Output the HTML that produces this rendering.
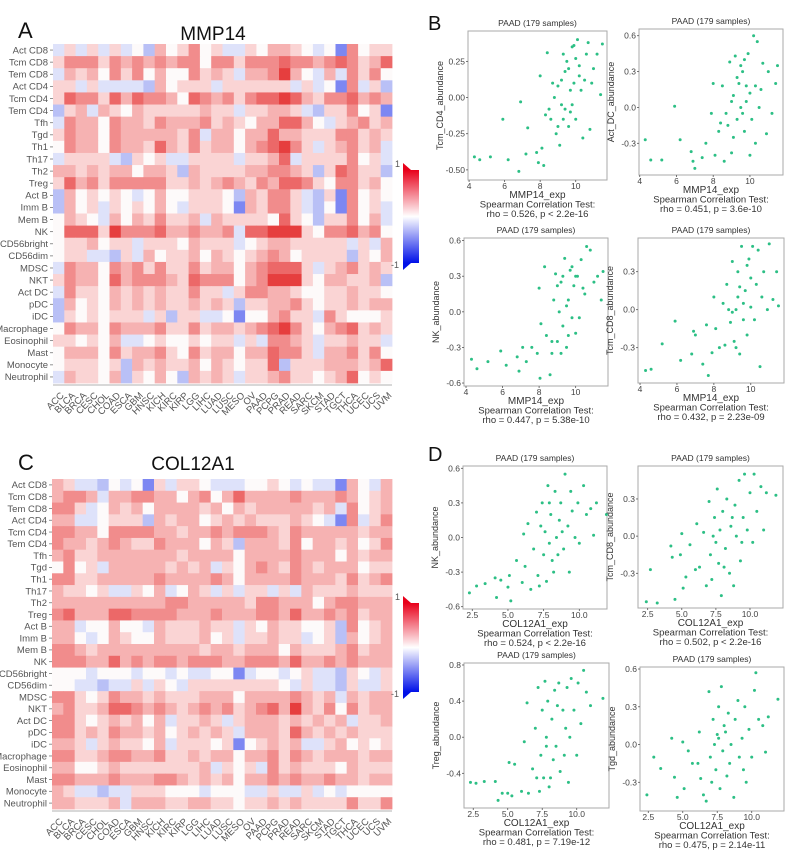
<!DOCTYPE html>
<html><head><meta charset="utf-8">
<style>
html,body{margin:0;padding:0;background:#fff;}
svg{display:block;font-family:"Liberation Sans",Arial,sans-serif;}
</style></head>
<body>
<svg id="fig" width="802" height="852" viewBox="0 0 802 852" xmlns="http://www.w3.org/2000/svg">
<defs>
<linearGradient id="cbar" x1="0" y1="0" x2="0" y2="1">
<stop offset="0" stop-color="#e8001a"/><stop offset="0.5" stop-color="#ffffff"/><stop offset="1" stop-color="#0010e8"/>
</linearGradient>
</defs>
</svg>
<script>
const rowLabels=["Act CD8","Tcm CD8","Tem CD8","Act CD4","Tcm CD4","Tem CD4","Tfh","Tgd","Th1","Th17","Th2","Treg","Act B","Imm B","Mem B","NK","CD56bright","CD56dim","MDSC","NKT","Act DC","pDC","iDC","Macrophage","Eosinophil","Mast","Monocyte","Neutrophil"];
const colLabels=["ACC","BLCA","BRCA","CESC","CHOL","COAD","ESCA","GBM","HNSC","KICH","KIRC","KIRP","LGG","LIHC","LUAD","LUSC","MESO","OV","PAAD","PCPG","PRAD","READ","SARC","SKCM","STAD","TGCT","THCA","UCEC","UCS","UVM"];
// heat codes: digit d -> correlation level (0 = strong negative, 3 = zero, 8 = strong positive)
const heatA=[
"242424231534634224355432306344",
"466646565656636646667665676457",
"254536463533645425568532526463",
"442422221534442444444242306241",
"476647576653765646778754667565",
"145254354444454424455421446340",
"265536554655564543557753245645",
"465536555554625535575544466454",
"365536554754645535678642456452",
"244442143422444424457244446342",
"554545535541544445566541476441",
"475646666644545654657764366453",
"153434323533444315466421406343",
"153424343532444305466421306342",
"354325354644525444437431446352",
"377748666755655627788843667563",
"344534424443544423455444442425",
"344221425344535434565344441435",
"265536564644645535677742456454",
"465537566654766635688843554451",
"264435454544644246655433445443",
"153435454544545414455643445455",
"143434442414422303356442643334",
"365536555644645545678643567454",
"443435223433434424266542445442",
"355536455643645535576642556463",
"344434154544535434471444555457",
"254435143531545424456443457343"];
const heatC=[
"542213230424432223343232205325",
"566525566553563575555655565345",
"664235453555545354555554526345",
"552234441545534545444543206246",
"665536666554556566654655555455",
"655456544655535415554635545346",
"564455555554555535555655535455",
"363425555545452435654654555344",
"664455555655556535555655546456",
"544342243523542424424254445444",
"555555555566555554665553566555",
"675557766665556555665755656455",
"552335332544454424354433416345",
"553235433544453424454423415345",
"665455555555545545553544456455",
"666557565665666556665755656555",
"333233323323223302332342214324",
"332212242432444444443242214224",
"664346554544455535555654525455",
"564457765654565645675854636455",
"664345453524454245554545452445",
"664546554534545425554754545444",
"554245443524443403454522453434",
"664456655644545535564654555455",
"553345444444452434264544435444",
"665556555665454535565655655455",
"542212244433323332242242323333",
"554445255544554434454544446446"];

const NS="http://www.w3.org/2000/svg";
const svg=document.getElementById('fig');
function mk(tag,attrs,parent){const e=document.createElementNS(NS,tag);for(const k in attrs)e.setAttribute(k,attrs[k]);(parent||svg).appendChild(e);return e;}
function txt(s,attrs,parent){const e=mk('text',attrs,parent);e.textContent=s;return e;}
const palette=["rgb(125,135,242)","rgb(185,192,246)","rgb(222,226,250)","rgb(253,250,250)","rgb(250,212,212)","rgb(246,178,178)","rgb(241,140,140)","rgb(236,104,104)","rgb(230,62,62)","rgb(225,30,30)"];
function heatColor(d){return palette[Math.max(0,Math.min(9,d))];}
function drawHeat(data,x0,y0,x1,y1,name){
  const g=mk('g',{});
  
  
  const cw=(x1-x0)/colLabels.length, ch=(y1-y0)/rowLabels.length;
  const xs=i=>x0+i*cw, ys=j=>y0+j*ch;
  data.forEach((row,j)=>{
    for(let i=0;i<colLabels.length;i++){
      const r=mk('rect',{x:xs(i).toFixed(2),y:ys(j).toFixed(2),width:(cw+0.4).toFixed(2),height:(ch+0.4).toFixed(2),fill:heatColor(parseInt(row[i]))},g);
      
      
    }
  });
  rowLabels.forEach((l,j)=>{
    const t=txt(l,{x:x0-5,y:ys(j)+ch/2+3.3,'text-anchor':'end','font-size':'9.5',fill:'#555'},g);
    
    
    mk('line',{x1:x0-3,x2:x0,y1:ys(j)+ch/2,y2:ys(j)+ch/2,stroke:'#777','stroke-width':0.8},g);
  });
  mk('line',{x1:x0,x2:x1,y1:y1+2,y2:y1+2,stroke:'#999','stroke-width':0.8},g);
  colLabels.forEach((l,i)=>{
    const cx=xs(i)+cw/2, cy=y1+6;
    const t=txt(l,{x:cx,y:cy+7,'text-anchor':'end','font-size':'9.5',fill:'#555',transform:`rotate(-45 ${cx+3} ${cy})`},g);
    
    
  });
}
function drawCbar(x,y0,y1,name){
  const g=mk('g',{});
  
  
  mk('rect',{x:x,y:y0,width:16,height:y1-y0,fill:'url(#cbar)'},g);
  mk('polygon',{points:`${x},${y0} ${x},${y0-7} ${x+8},${y0}`,fill:'#e8001a'},g);
  mk('polygon',{points:`${x},${y1} ${x},${y1+7} ${x+8},${y1}`,fill:'#0010e8'},g);
  txt('1',{x:x-8,y:y0-3,'font-size':'9',fill:'#555'},g);
  txt('-1',{x:x-12,y:y1+5,'font-size':'9',fill:'#555'},g);
}
[["A",18,38,22],["C",18,470,22],["B",428,30,20],["D",428,461,20]].forEach(p=>{
  const t=txt(p[0],{x:p[1],y:p[2],'font-size':p[3],fill:'#111'});
  
  
});
let t1=txt('MMP14',{x:213,y:40,'text-anchor':'middle','font-size':'19',fill:'#111'});


let t2=txt('COL12A1',{x:193,y:470,'text-anchor':'middle','font-size':'19',fill:'#111'});


drawHeat(heatA,53,44,392,383,'heatmap-mmp14');
drawHeat(heatC,52,479,392,809,'heatmap-col12a1');
drawCbar(403,170,263,'colorbar-a');
drawCbar(403,603,692,'colorbar-c');

// ---------- scatter data ----------
const b1x=[4.3,4.6,5.2,5.9,6.2,6.8,6.9,7.2,7.3,7.8,7.9,8.0,8.1,8.2,8.4,8.6,8.8,9.0,9.1,9.2,9.3,9.4,9.5,9.6,9.7,9.8,9.9,10.0,10.1,10.2,10.4,10.5,10.7,10.8,11.0,11.2,11.4,11.5,9.2,8.7,9.6,10.3,8.9,9.8,10.6,9.0,9.4,9.7,10.0,8.5,9.3,10.2,9.9,8.3,10.9];
const b1y=[-0.41,-0.43,-0.41,-0.15,-0.43,-0.51,-0.03,-0.39,-0.21,-0.38,-0.45,0.15,-0.35,-0.47,0.31,-0.15,0.0,-0.2,-0.33,0.12,0.3,-0.08,0.25,-0.2,0.05,0.35,0.1,-0.15,0.4,0.22,-0.28,0.12,0.38,-0.22,0.2,0.3,0.02,0.37,-0.05,0.1,0.2,0.05,-0.25,-0.05,0.3,0.08,0.18,-0.1,0.27,-0.08,-0.15,0.15,0.36,-0.12,0.1];
const b2x=[4.3,4.6,5.2,5.9,6.2,6.8,6.9,7.0,7.4,7.6,7.9,8.0,8.1,8.3,8.5,8.6,8.7,8.9,9.0,9.1,9.2,9.3,9.4,9.5,9.6,9.7,9.8,9.9,10.0,10.1,10.2,10.3,10.4,10.5,10.7,10.9,11.0,11.2,11.4,11.5,9.3,9.6,9.8,9.0,8.8,10.0,9.5,8.4,10.6,9.7,9.1,10.3];
const b2y=[-0.27,-0.44,-0.44,0.01,-0.27,-0.37,-0.45,-0.51,-0.42,-0.3,-0.05,0.2,-0.4,-0.2,0.18,-0.45,-0.05,0.38,-0.38,0.1,0.43,-0.1,0.2,0.0,0.3,-0.2,0.05,0.45,-0.4,-0.1,0.6,0.18,0.55,0.0,0.37,-0.22,0.3,-0.05,0.2,0.35,0.25,-0.05,0.18,0.05,-0.15,0.12,0.35,-0.13,0.15,0.4,-0.25,-0.3];
const b3x=[4.3,4.6,5.2,5.9,6.2,6.8,6.9,7.1,7.3,7.6,7.9,8.0,8.05,8.1,8.3,8.4,8.6,8.7,8.8,8.9,9.0,9.1,9.2,9.3,9.4,9.5,9.6,9.7,9.8,9.9,10.0,10.1,10.2,10.3,10.5,10.6,10.8,11.0,11.2,11.4,11.5,9.3,9.6,9.0,10.0,9.5,8.7,10.4,9.8,9.2];
const b3y=[-0.4,-0.48,-0.42,-0.33,-0.45,-0.38,-0.5,-0.3,-0.42,-0.3,-0.35,0.2,-0.56,-0.1,0.38,-0.2,-0.53,-0.35,0.1,0.32,-0.25,0.0,0.25,-0.12,0.45,-0.3,0.1,0.35,-0.05,0.22,-0.18,0.3,-0.05,0.44,0.15,0.55,0.52,0.25,0.3,0.1,0.34,0.3,-0.2,0.22,0.3,0.05,-0.25,0.2,0.38,-0.35];
const b4x=[4.3,4.6,5.2,5.9,6.2,6.8,6.9,7.0,7.4,7.6,7.7,7.9,8.0,8.1,8.3,8.5,8.6,8.7,8.9,9.0,9.1,9.2,9.3,9.4,9.5,9.6,9.7,9.8,9.9,10.0,10.1,10.2,10.3,10.4,10.5,10.7,10.9,11.0,11.2,11.4,11.5,9.3,9.6,9.0,10.0,8.8,9.4,10.6,9.2,9.8];
const b4y=[-0.48,-0.47,-0.27,-0.09,-0.4,-0.35,-0.17,-0.2,-0.43,-0.12,-0.52,-0.34,0.1,-0.15,-0.3,0.05,-0.28,0.2,-0.1,0.38,-0.25,0.0,0.3,-0.35,0.5,0.05,0.15,-0.2,0.4,0.02,0.5,-0.08,0.2,0.47,-0.45,0.3,0.0,0.52,0.08,0.3,0.03,0.1,-0.08,-0.02,0.25,0.0,0.18,0.1,-0.3,0.35];
const d1x=[2.3,2.8,3.4,4.1,4.2,4.5,5.0,5.1,5.2,5.6,6.0,6.1,6.2,6.4,6.6,6.8,7.0,7.1,7.2,7.4,7.5,7.6,7.7,7.8,7.9,8.0,8.2,8.3,8.4,8.5,8.7,8.9,9.0,9.2,9.3,9.5,9.7,9.9,10.0,10.3,10.5,10.8,11.0,11.2,11.9,7.3,8.1,8.6,9.4,7.9,8.8];
const d1y=[-0.48,-0.42,-0.4,-0.35,-0.52,-0.37,-0.43,-0.33,-0.55,-0.2,-0.39,0.03,-0.25,0.12,-0.45,-0.1,0.22,-0.33,-0.42,0.3,-0.15,0.05,-0.38,0.45,-0.05,0.2,-0.3,0.4,0.0,-0.15,0.3,-0.1,0.55,0.1,-0.3,0.23,0.0,0.3,-0.05,0.45,0.2,0.25,0.02,0.3,0.2,0.1,-0.2,0.15,0.4,0.3,0.05];
const d2x=[2.4,2.7,3.2,4.2,4.3,4.5,4.9,5.0,5.1,5.3,5.6,6.0,6.1,6.3,6.6,6.8,7.0,7.1,7.2,7.4,7.5,7.6,7.7,7.8,7.9,8.0,8.2,8.3,8.5,8.6,8.8,8.9,9.0,9.2,9.3,9.5,9.6,9.8,10.0,10.2,10.3,10.5,10.8,11.0,11.2,11.9,7.3,8.1,8.7,9.4];
const d2y=[-0.53,-0.27,-0.54,-0.08,-0.17,-0.51,-0.15,0.02,-0.42,-0.33,-0.07,-0.27,0.1,-0.25,0.03,-0.4,0.28,-0.15,-0.35,0.15,-0.05,0.38,-0.22,0.05,-0.48,0.2,-0.1,0.3,-0.3,0.08,-0.4,0.25,0.0,0.45,-0.2,0.15,0.5,0.05,0.35,-0.05,0.5,0.2,0.4,0.05,0.35,0.33,0.0,-0.25,0.15,-0.05];
const d3x=[2.3,2.7,3.3,4.1,4.3,4.6,5.0,5.1,5.3,5.5,6.0,6.2,6.4,6.5,6.8,7.0,7.1,7.2,7.3,7.4,7.5,7.6,7.7,7.8,7.9,8.0,8.2,8.3,8.4,8.5,8.7,8.8,9.0,9.1,9.3,9.4,9.5,9.6,9.8,10.0,10.1,10.3,10.5,10.7,11.0,11.9,7.8,8.6,9.2,8.1];
const d3y=[-0.5,-0.51,-0.49,-0.49,-0.7,-0.62,-0.62,-0.28,-0.65,-0.3,-0.6,-0.05,0.38,-0.62,-0.35,0.1,-0.45,0.55,-0.6,-0.2,0.3,-0.45,0.62,0.0,0.4,-0.55,0.2,-0.25,0.52,-0.1,0.6,-0.38,0.3,-0.2,0.55,-0.5,0.0,0.65,0.3,-0.2,0.6,0.15,0.74,0.5,0.35,0.43,-0.1,0.35,0.1,-0.45];
const d4x=[2.4,2.9,3.4,4.2,4.4,4.6,5.0,5.1,5.4,5.7,6.1,6.2,6.3,6.5,6.7,6.9,7.0,7.1,7.2,7.4,7.5,7.6,7.7,7.8,7.9,8.0,8.2,8.3,8.5,8.7,8.8,9.0,9.1,9.3,9.5,9.6,9.8,10.0,10.2,10.3,10.5,10.8,11.0,11.2,11.9,7.6,8.4,9.4,8.1,7.3];
const d4y=[-0.4,-0.1,-0.19,0.05,-0.26,-0.42,0.02,-0.35,-0.05,-0.15,-0.15,0.1,-0.27,-0.4,-0.45,0.42,-0.1,-0.3,0.2,-0.2,0.08,0.3,-0.35,0.46,-0.05,0.15,-0.25,0.25,0.0,-0.42,0.2,0.35,-0.1,0.05,0.3,-0.3,0.12,-0.1,0.43,0.57,0.2,0.15,-0.06,0.22,0.36,0.05,-0.15,-0.2,0.1,0.0];
const xTicksB=[4,6,8,10];
const xTicksD=[2.5,5.0,7.5,10.0];
const yTicksB1=[0.25,0.0,-0.25,-0.5];
const yTicksB2=[0.6,0.3,0.0,-0.3];
const yTicksB3=[0.6,0.3,0.0,-0.3,-0.6];
const yTicksB4=[0.3,0.0,-0.3];
const yTicksD1=[0.6,0.3,0.0,-0.3,-0.6];
const yTicksD2=[0.3,0.0,-0.3];
const yTicksD3=[0.8,0.4,0.0,-0.4];
const yTicksD4=[0.6,0.3,0.0,-0.3];
const yLabels=["Tcm_CD4_abundance","Act_DC_abundance","NK_abundance","Tcm_CD8_abundance","NK_abundance","Tcm_CD8_abundance","Treg_abundance","Tgd_abundance"];
const stats=["rho = 0.526, p < 2.2e-16","rho = 0.451, p = 3.6e-10","rho = 0.447, p = 5.38e-10","rho = 0.432, p = 2.23e-09","rho = 0.524, p < 2.2e-16","rho = 0.502, p < 2.2e-16","rho = 0.481, p = 7.19e-12","rho = 0.475, p = 2.14e-11"];

function scatter(o){
  const g=mk('g',{});
  
  
  const [bx0,by0,bx1,by1]=o.box,[dx0,dx1]=o.xd,[dy0,dy1]=o.yd;
  const sx=v=>bx0+(v-dx0)/(dx1-dx0)*(bx1-bx0);
  const sy=v=>by1-(v-dy0)/(dy1-dy0)*(by1-by0);
  mk('rect',{x:bx0,y:by0,width:bx1-bx0,height:by1-by0,fill:'#fff',stroke:'#aaa','stroke-width':1},g);
  const tt=txt('PAAD (179 samples)',{x:(bx0+bx1)/2,y:by0-5,'text-anchor':'middle','font-size':'8.5',fill:'#333'},g);
  
  
  o.xt.forEach(v=>{
    const x=sx(v);
    mk('line',{x1:x,x2:x,y1:by1,y2:by1+2,stroke:'#555','stroke-width':0.8},g);
    const l=txt(o.xfmt(v),{x:x,y:by1+9,'text-anchor':'middle','font-size':'8.5',fill:'#444'},g);
    
    
  });
  o.yt.forEach(v=>{
    const y=sy(v);
    mk('line',{x1:bx0-2,x2:bx0,y1:y,y2:y,stroke:'#555','stroke-width':0.8},g);
    const l=txt(o.yfmt(v),{x:bx0-3,y:y+3,'text-anchor':'end','font-size':'8.5',fill:'#444'},g);
    
    
  });
  o.px.forEach((v,i)=>{
    const c=mk('circle',{cx:sx(v).toFixed(2),cy:sy(o.py[i]).toFixed(2),r:1.5,fill:'#2cbf85'},g);
    
    
  });
  const cx=(bx0+bx1)/2, yl=(by0+by1)/2;
  const ya=txt(o.ylab,{x:0,y:0,'text-anchor':'middle','font-size':'9',fill:'#333',transform:`translate(${bx0-25},${yl}) rotate(-90)`},g);
  
  
  const xa=txt(o.xlab,{x:cx,y:by1+18,'text-anchor':'middle','font-size':'10',fill:'#333'},g);
  
  
  const s1=txt('Spearman Correlation Test:',{x:cx,y:by1+27.5,'text-anchor':'middle','font-size':'9.5',fill:'#333'},g);
  
  
  const s2=txt(o.stat,{x:cx,y:by1+37,'text-anchor':'middle','font-size':'9.5',fill:'#333'},g);
  
  
}
const fB=v=>String(v), f2=v=>v.toFixed(2), f1=v=>v.toFixed(1);
scatter({name:'scatter-b1',box:[468,31,607,180],xd:[3.94,11.76],yd:[-0.57,0.46],px:b1x,py:b1y,xt:xTicksB,yt:yTicksB1,xfmt:fB,yfmt:f2,ylab:yLabels[0],xlab:'MMP14_exp',stat:stats[0]});
scatter({name:'scatter-b2',box:[639,29,783,175],xd:[3.96,11.8],yd:[-0.565,0.656],px:b2x,py:b2y,xt:xTicksB,yt:yTicksB2,xfmt:fB,yfmt:f1,ylab:yLabels[1],xlab:'MMP14_exp',stat:stats[1]});
scatter({name:'scatter-b3',box:[464,238,608,386],xd:[3.89,11.77],yd:[-0.625,0.622],px:b3x,py:b3y,xt:xTicksB,yt:yTicksB3,xfmt:fB,yfmt:f1,ylab:yLabels[2],xlab:'MMP14_exp',stat:stats[2]});
scatter({name:'scatter-b4',box:[638,238,784,383],xd:[3.89,11.8],yd:[-0.579,0.566],px:b4x,py:b4y,xt:xTicksB,yt:yTicksB4,xfmt:fB,yfmt:f1,ylab:yLabels[3],xlab:'MMP14_exp',stat:stats[3]});
scatter({name:'scatter-d1',box:[463,466,607,609],xd:[1.85,11.94],yd:[-0.62,0.62],px:d1x,py:d1y,xt:xTicksD,yt:yTicksD1,xfmt:f1,yfmt:f1,ylab:yLabels[4],xlab:'COL12A1_exp',stat:stats[4]});
scatter({name:'scatter-d2',box:[638,466,783,608],xd:[1.79,12.42],yd:[-0.58,0.566],px:d2x,py:d2y,xt:xTicksD,yt:yTicksD2,xfmt:f1,yfmt:f1,ylab:yLabels[5],xlab:'COL12A1_exp',stat:stats[5]});
scatter({name:'scatter-d3',box:[464,663,609,808],xd:[1.83,12.34],yd:[-0.784,0.822],px:d3x,py:d3y,xt:xTicksD,yt:yTicksD3,xfmt:f1,yfmt:f1,ylab:yLabels[6],xlab:'COL12A1_exp',stat:stats[6]});
scatter({name:'scatter-d4',box:[640,667,784,811],xd:[1.9,12.34],yd:[-0.528,0.616],px:d4x,py:d4y,xt:xTicksD,yt:yTicksD4,xfmt:f1,yfmt:f1,ylab:yLabels[7],xlab:'COL12A1_exp',stat:stats[7]});
</script>
</body></html>
